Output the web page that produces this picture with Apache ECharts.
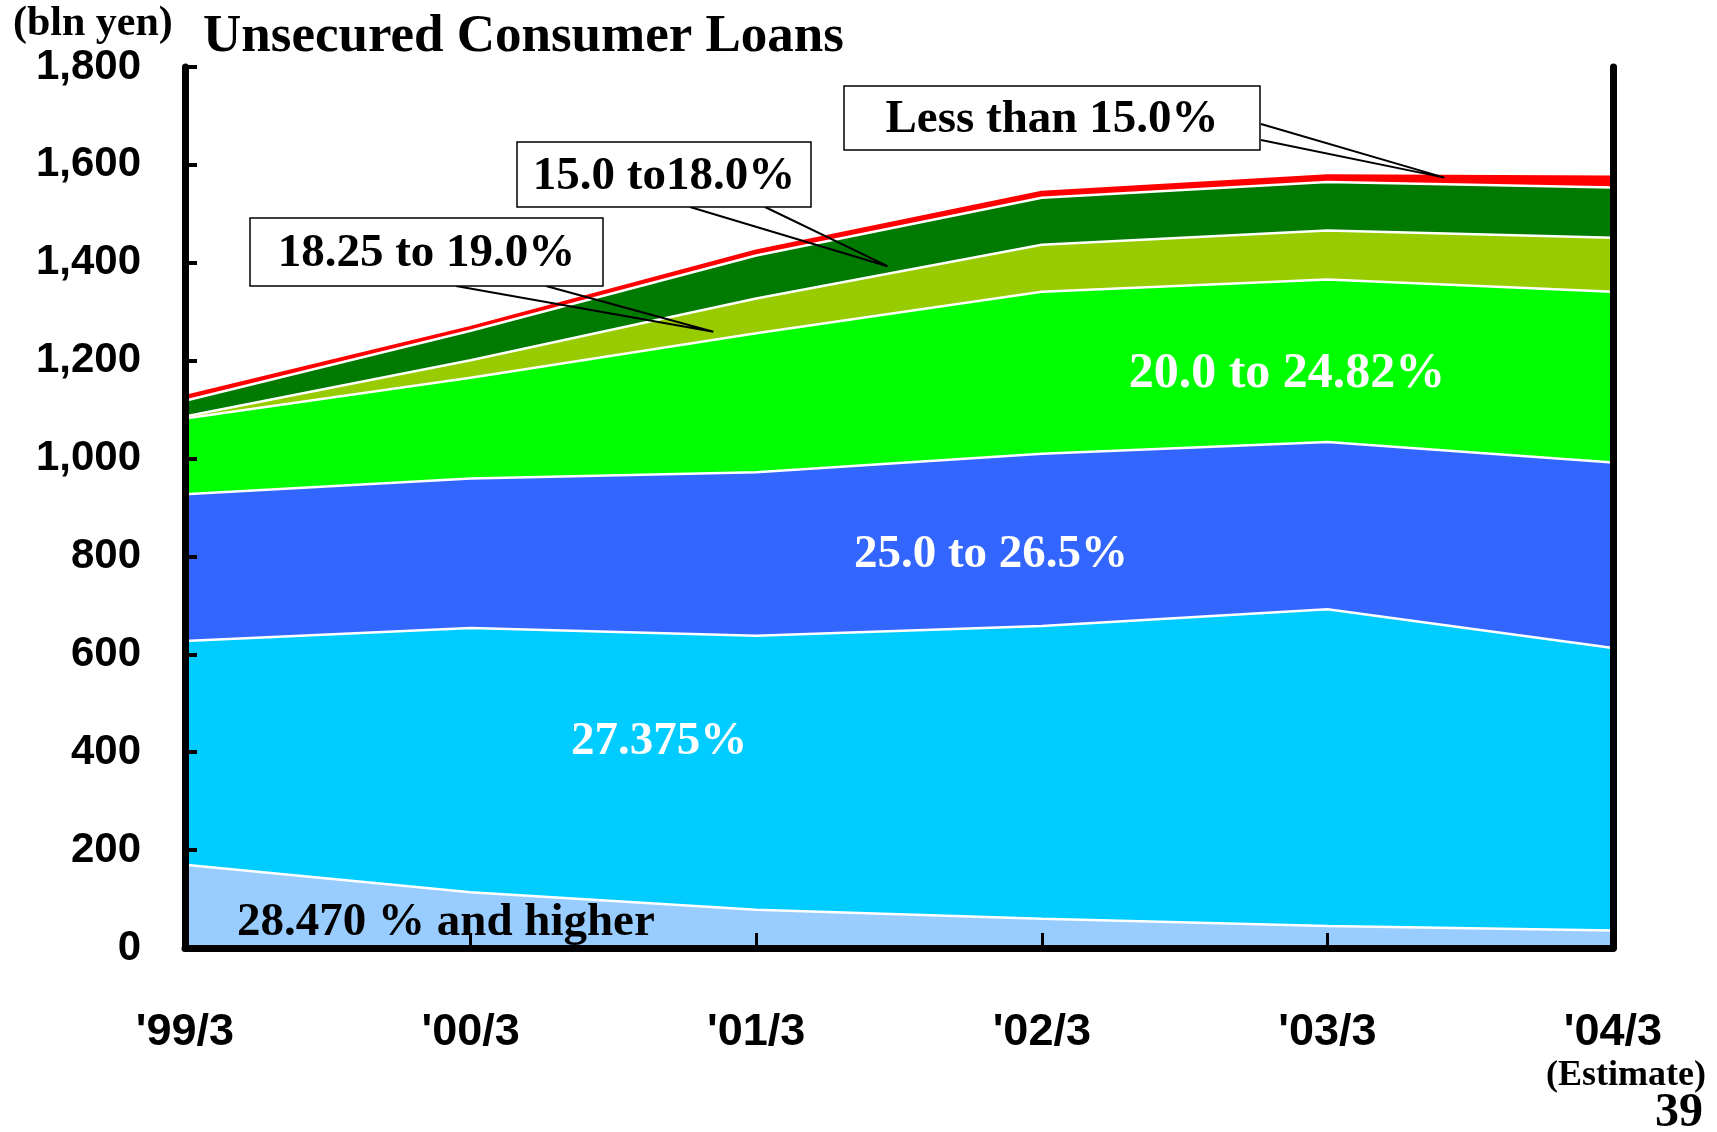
<!DOCTYPE html>
<html>
<head>
<meta charset="utf-8">
<script src="https://cdn.jsdelivr.net/npm/echarts@6/dist/echarts.min.js"></script>
<style>
  html, body { margin: 0; padding: 0; background: #fff; }
  #chart { width: 1717px; height: 1132px; }
</style>
</head>
<body>
<div id="chart"></div>
<script>
// data, bln yen
const categories = ["'99/3", "'00/3", "'01/3", "'02/3", "'03/3", "'04/3"];
const rate28470 = [170, 114, 78, 60, 45, 36];
const rate27375 = [457, 540, 560, 598, 647, 577];
const rate25to265 = [300, 305, 334, 352, 342, 379];
const rate20to2482 = [155, 206, 284, 331, 332, 349];
const rate1825to19 = [4, 36, 71, 96, 100, 110];
const rate15to18 = [32, 60, 88, 96, 99, 103];
const rateUnder15 = [8, 6, 8, 10, 12, 20];
const yMax = 1800, yStep = 200;

const serif = "'Liberation Serif', 'Times New Roman', serif";
const sans = "'Liberation Sans Narrow', 'Arial Narrow', 'Liberation Sans', Arial, sans-serif";

const layers = [
  {name: '28.470 % and higher', data: rate28470, color: '#99CCFF'},
  {name: '27.375%', data: rate27375, color: '#00CCFF'},
  {name: '25.0 to 26.5%', data: rate25to265, color: '#3366FF'},
  {name: '20.0 to 24.82%', data: rate20to2482, color: '#00FF00'},
  {name: '18.25 to 19.0%', data: rate1825to19, color: '#99CC00'},
  {name: '15.0 to18.0%', data: rate15to18, color: '#007A00'},
  {name: 'Less than 15.0%', data: rateUnder15, color: '#FF0000'}
];

// callout boxes (pixels) pointing at a spot given in data coords
const callouts = [
  {text: 'Less than 15.0%', box: [844, 86, 416, 64], from: [[1261, 124], [1261, 140]], tip: [4.41, 1574]},
  {text: '15.0 to18.0%', box: [517, 142, 294, 65], from: [[690, 207], [765, 207]], tip: [2.46, 1393]},
  {text: '18.25 to 19.0%', box: [250, 218, 353, 68], from: [[456, 286], [546, 286]], tip: [1.85, 1259]}
];

const chart = echarts.init(document.getElementById('chart'));

const axisLineBlack = w => ({show: true, lineStyle: {color: '#000', width: w}});

chart.setOption({
  animation: false,
  backgroundColor: '#fff',
  grid: {left: 185, right: 104, top: 67, bottom: 184},
  xAxis: [{
    type: 'category', data: categories, boundaryGap: false, z: 10,
    axisLine: axisLineBlack(7),
    axisTick: {show: true, inside: true, length: 15, lineStyle: {color: '#000', width: 3}},
    axisLabel: {margin: 62, color: '#000', fontFamily: sans, fontWeight: 'bold', fontSize: 45, showMinLabel: true, showMaxLabel: true},
    splitLine: {show: false}
  }, {
    type: 'category', data: categories, boundaryGap: false, position: 'top', z: 10,
    axisLine: axisLineBlack(4), axisTick: {show: false}, axisLabel: {show: false}, splitLine: {show: false}
  }],
  yAxis: [{
    type: 'value', min: 0, max: yMax, interval: yStep, z: 10,
    axisLine: axisLineBlack(7),
    axisTick: {show: true, inside: true, length: 12, lineStyle: {color: '#000', width: 4}},
    axisLabel: {margin: 44, color: '#000', fontFamily: sans, fontWeight: 'bold', fontSize: 42,
      formatter: v => v.toLocaleString('en-US')},
    splitLine: {show: false}
  }, {
    type: 'value', min: 0, max: yMax, interval: yStep, position: 'right', z: 10,
    axisLine: axisLineBlack(7), axisTick: {show: false}, axisLabel: {show: false}, splitLine: {show: false}
  }],
  series: layers.map((l, i) => ({
    name: l.name,
    type: 'line',
    stack: 'total',
    data: l.data,
    z: 8 - i,
    symbol: 'none',
    lineStyle: {color: i === layers.length - 1 ? '#FF0000' : '#FFFFFF', width: i === layers.length - 1 ? 4 : 2.5},
    areaStyle: {color: l.color, opacity: 1},
    emphasis: {disabled: true}
  }))
});

function tipPixel(tip) {
  const i0 = Math.floor(tip[0]), i1 = Math.min(i0 + 1, categories.length - 1);
  const p0 = chart.convertToPixel({gridIndex: 0}, [i0, tip[1]]);
  const p1 = chart.convertToPixel({gridIndex: 0}, [i1, tip[1]]);
  const f = tip[0] - i0;
  return [p0[0] + (p1[0] - p0[0]) * f, p0[1]];
}

const graphics = [];
const txt = (text, x, y, opt) => graphics.push({
  type: 'text', x, y, z: 100,
  style: Object.assign({text, fontFamily: serif, fontWeight: 'bold', fontSize: 47, fill: '#000',
    align: 'center', verticalAlign: 'middle'}, opt || {})
});

callouts.forEach(c => {
  const t = tipPixel(c.tip);
  graphics.push({
    type: 'polyline', z: 99,
    shape: {points: [c.from[0], t, c.from[1]]},
    style: {stroke: '#000', lineWidth: 2, fill: null}
  });
  graphics.push({
    type: 'rect', z: 99,
    shape: {x: c.box[0], y: c.box[1], width: c.box[2], height: c.box[3]},
    style: {fill: '#fff', stroke: '#000', lineWidth: 1.5}
  });
  txt(c.text, c.box[0] + c.box[2] / 2, c.box[1] + c.box[3] / 2 + 2);
});

txt('Unsecured Consumer Loans', 203, 37, {align: 'left', fontSize: 53});
txt('(bln yen)', 13, 24, {align: 'left', fontSize: 42});
txt('20.0 to 24.82%', 1287, 374, {fill: '#fff', fontSize: 50});
txt('25.0 to 26.5%', 991, 555, {fill: '#fff'});
txt('27.375%', 659, 742, {fill: '#fff'});
txt('28.470 % and higher', 237, 923, {align: 'left'});
txt('(Estimate)', 1626, 1076, {fontSize: 36});
txt('39', 1703, 1114, {align: 'right', fontSize: 48});

chart.setOption({graphic: graphics});
</script>
</body>
</html>
